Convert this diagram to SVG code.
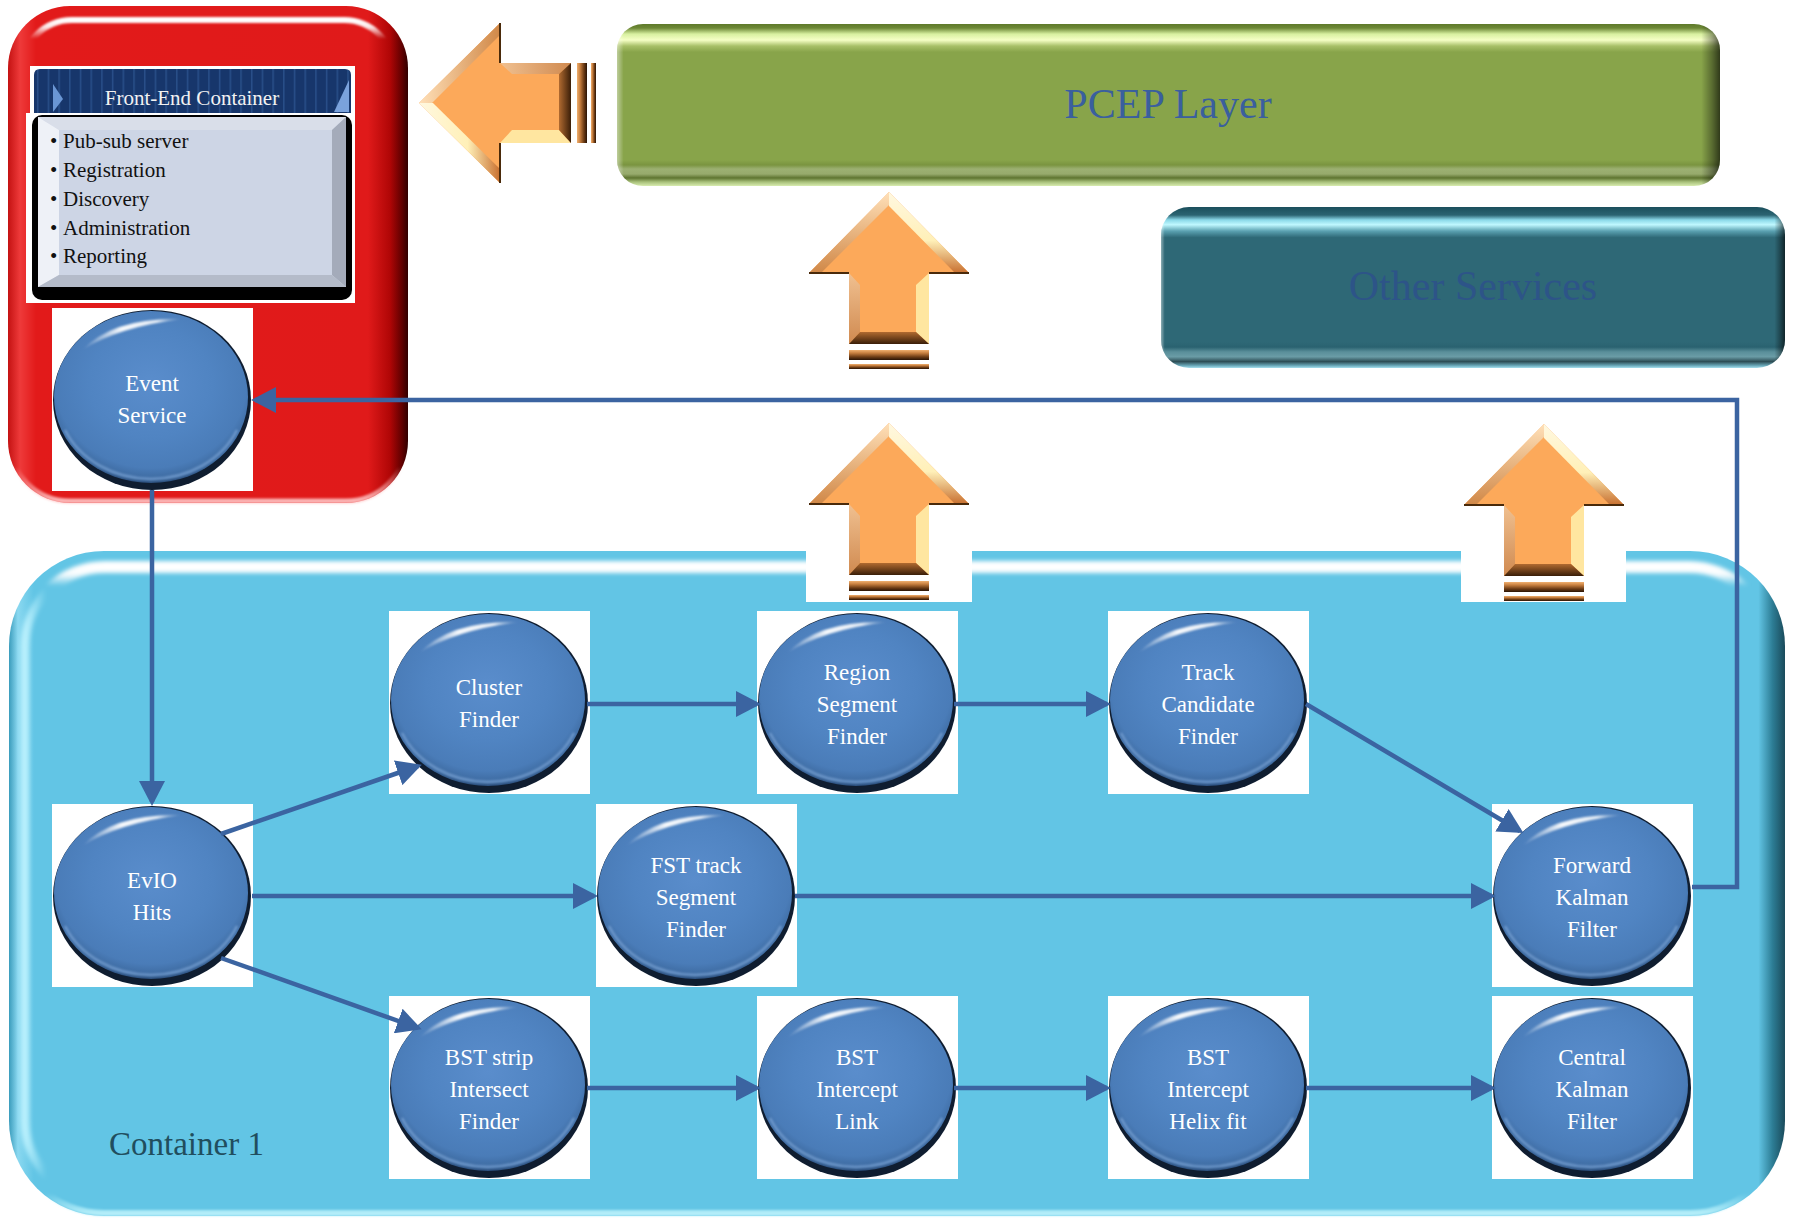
<svg xmlns="http://www.w3.org/2000/svg" xmlns:xlink="http://www.w3.org/1999/xlink" width="1796" height="1219" viewBox="0 0 1796 1219">
<style>
.serif{font-family:"Liberation Serif","Times New Roman",serif}
.nl{font-size:23px;fill:#ffffff;text-anchor:middle}
.bl{font-size:21px;fill:#111111}
</style>
<defs>
<filter id="b1" x="-20%" y="-20%" width="140%" height="140%"><feGaussianBlur stdDeviation="1.2"/></filter>
<filter id="b2" x="-20%" y="-20%" width="140%" height="140%"><feGaussianBlur stdDeviation="2.2"/></filter>
<linearGradient id="redH" x1="0" y1="0" x2="1" y2="0">
<stop offset="0" stop-color="#c41212"/><stop offset="0.03" stop-color="#ee3a3a"/><stop offset="0.07" stop-color="#e21a1a"/><stop offset="0.9" stop-color="#e01a1a"/><stop offset="0.955" stop-color="#b00606"/><stop offset="0.985" stop-color="#600000"/><stop offset="1" stop-color="#300000"/>
</linearGradient>
<linearGradient id="hlTop" x1="0" y1="0" x2="0" y2="1">
<stop offset="0" stop-color="#fff" stop-opacity="1"/><stop offset="0.015" stop-color="#fff" stop-opacity="0.9"/><stop offset="0.04" stop-color="#fff" stop-opacity="0"/><stop offset="1" stop-color="#fff" stop-opacity="0"/>
</linearGradient>
<linearGradient id="hlBot" x1="0" y1="0" x2="0" y2="1">
<stop offset="0" stop-color="#ffc0c0" stop-opacity="0"/><stop offset="0.93" stop-color="#ffc0c0" stop-opacity="0"/><stop offset="1" stop-color="#ffc8c8" stop-opacity="0.9"/>
</linearGradient>
<linearGradient id="greenV" x1="0" y1="0" x2="0" y2="1">
<stop offset="0" stop-color="#5e7a2a"/><stop offset="0.025" stop-color="#6d8836"/><stop offset="0.062" stop-color="#d8f0a0"/><stop offset="0.099" stop-color="#f6ffc6"/><stop offset="0.136" stop-color="#a8c068"/><stop offset="0.173" stop-color="#88a44a"/><stop offset="0.84" stop-color="#88a44a"/><stop offset="0.87" stop-color="#7a9440"/><stop offset="0.895" stop-color="#9cb072"/><stop offset="0.926" stop-color="#97aa6c"/><stop offset="0.95" stop-color="#5e7430"/><stop offset="0.975" stop-color="#a8c07a"/><stop offset="1" stop-color="#d8ecb0"/>
</linearGradient>
<linearGradient id="edgeH" x1="0" y1="0" x2="1" y2="0">
<stop offset="0" stop-color="#ffffff" stop-opacity="0.45"/><stop offset="0.006" stop-color="#ffffff" stop-opacity="0"/><stop offset="0.983" stop-color="#000" stop-opacity="0"/><stop offset="0.993" stop-color="#000" stop-opacity="0.35"/><stop offset="1" stop-color="#000" stop-opacity="0.65"/>
</linearGradient>
<linearGradient id="tealV" x1="0" y1="0" x2="0" y2="1">
<stop offset="0" stop-color="#1b4f5c"/><stop offset="0.05" stop-color="#2b6472"/><stop offset="0.08" stop-color="#8ad8e8"/><stop offset="0.11" stop-color="#c0f8ff"/><stop offset="0.15" stop-color="#5aa0b0"/><stop offset="0.19" stop-color="#2e6876"/><stop offset="0.84" stop-color="#2e6876"/><stop offset="0.87" stop-color="#2a6270"/><stop offset="0.9" stop-color="#5a8f9a"/><stop offset="0.93" stop-color="#6a9ca6"/><stop offset="0.96" stop-color="#2d4d55"/><stop offset="0.985" stop-color="#6aa8b8"/><stop offset="1" stop-color="#a8e0ee"/>
</linearGradient>
<linearGradient id="cyanH" x1="0" y1="0" x2="1" y2="0">
<stop offset="0" stop-color="#3a9cbc"/><stop offset="0.005" stop-color="#8ad8f0"/><stop offset="0.014" stop-color="#62c5e5"/><stop offset="0.985" stop-color="#62c5e5"/><stop offset="0.993" stop-color="#2d7d95"/><stop offset="1" stop-color="#1a4a5a"/>
</linearGradient>
<linearGradient id="cyTop" x1="0" y1="0" x2="0" y2="1">
<stop offset="0" stop-color="#fff" stop-opacity="1"/><stop offset="0.012" stop-color="#fff" stop-opacity="0.95"/><stop offset="0.03" stop-color="#fff" stop-opacity="0"/><stop offset="1" stop-color="#fff" stop-opacity="0"/>
</linearGradient>
<linearGradient id="cyLeft" x1="0" y1="0" x2="1" y2="0">
<stop offset="0" stop-color="#c0f4ff" stop-opacity="0.9"/><stop offset="0.006" stop-color="#c0f4ff" stop-opacity="0.5"/><stop offset="0.012" stop-color="#c0f4ff" stop-opacity="0"/><stop offset="1" stop-color="#c0f4ff" stop-opacity="0"/>
</linearGradient>
<linearGradient id="cyBot" x1="0" y1="0" x2="0" y2="1">
<stop offset="0" stop-color="#b0ecf8" stop-opacity="0"/><stop offset="0.97" stop-color="#b0ecf8" stop-opacity="0"/><stop offset="1" stop-color="#b8f0fa" stop-opacity="0.95"/>
</linearGradient>
<pattern id="stripes" patternUnits="userSpaceOnUse" width="10.7" height="20">
<rect width="10.7" height="20" fill="#17366b"/><rect x="5" width="1.3" height="20" fill="#2c538e"/>
</pattern>
<radialGradient id="ball" cx="0.5" cy="0.42" r="0.58">
<stop offset="0" stop-color="#5a8dcc"/><stop offset="0.55" stop-color="#5084c2"/><stop offset="0.85" stop-color="#4a7cb8"/><stop offset="0.96" stop-color="#3d6aa0"/><stop offset="1" stop-color="#2a4d7a"/>
</radialGradient>
<linearGradient id="shine" x1="0" y1="0" x2="1" y2="0">
<stop offset="0" stop-color="#fff" stop-opacity="0"/><stop offset="0.4" stop-color="#fff" stop-opacity="0.95"/><stop offset="0.75" stop-color="#fff" stop-opacity="0.85"/><stop offset="1" stop-color="#fff" stop-opacity="0"/>
</linearGradient>
<linearGradient id="bevL" x1="0" y1="0" x2="0" y2="1">
<stop offset="0" stop-color="#ffe0b8"/><stop offset="1" stop-color="#d08848"/>
</linearGradient>
<linearGradient id="bevR" x1="0" y1="0" x2="0" y2="1">
<stop offset="0" stop-color="#fff8e0"/><stop offset="0.6" stop-color="#fff0b8"/><stop offset="1" stop-color="#c87030"/>
</linearGradient>
<linearGradient id="bevB" x1="0" y1="0" x2="0" y2="1">
<stop offset="0" stop-color="#b06a30"/><stop offset="1" stop-color="#3a1e08"/>
</linearGradient>
<linearGradient id="stripeG" x1="0" y1="0" x2="0" y2="1">
<stop offset="0" stop-color="#f0b070"/><stop offset="0.3" stop-color="#c88040"/><stop offset="0.7" stop-color="#6a3a14"/><stop offset="1" stop-color="#2a1406"/>
</linearGradient>
<linearGradient id="shaftL" x1="0" y1="0" x2="0" y2="1">
<stop offset="0" stop-color="#f0c090"/><stop offset="1" stop-color="#d08a50"/>
</linearGradient>
<g id="bigArrow">
<path d="M0,0 L80,81 L40,81 L40,152 L-40,152 L-40,81 L-80,81 Z" fill="#fca95a"/>
<path d="M0,0 L-80,81 L-68,81 L0,13 Z" fill="url(#bevL)"/>
<path d="M0,0 L80,81 L66,81 L0,14 Z" fill="url(#bevR)"/>
<path d="M-40,81 L-29,93 L-29,140 L-40,152 Z" fill="url(#shaftL)"/>
<path d="M40,81 L27,93 L27,140 L40,152 Z" fill="#ffe6a0"/>
<path d="M-40,152 L-29,140 L27,140 L40,152 Z" fill="url(#bevB)"/>
<path d="M-80,81 L-40,81 M40,81 L80,81" stroke="#4a2a0a" stroke-width="2"/>
<rect x="-40" y="158" width="80" height="10" fill="url(#stripeG)"/>
<rect x="-40" y="172" width="80" height="5" fill="url(#stripeG)"/>
</g>
<g id="bubble">
<rect x="-100" y="-92" width="201" height="183" fill="#ffffff"/>
<ellipse rx="99" ry="90" fill="#0f1d30"/>
<ellipse cx="-1" cy="-3" rx="97" ry="86" fill="url(#ball)"/>
<path d="M-87,30 A94,82 0 0 0 85,30" stroke="#8ab2e2" stroke-opacity="0.6" stroke-width="2.5" fill="none" filter="url(#b1)"/>
<path d="M-70,-50 Q-38,-83 30,-81 Q-34,-73 -70,-50 Z" fill="url(#shine)" filter="url(#b1)"/>
</g>
<marker id="ah" markerUnits="userSpaceOnUse" markerWidth="26" markerHeight="26" refX="21" refY="13" orient="auto">
<path d="M0,0 L25,13 L0,26 Z" fill="#3b64a1"/>
</marker>
</defs>

<rect width="1796" height="1219" fill="#ffffff"/>

<!-- Front-End container -->
<g id="front-end-container">
<rect x="8" y="6" width="400" height="497" rx="62" fill="url(#redH)"/>
<rect x="22" y="20" width="372" height="469" rx="50" fill="none" stroke="url(#hlTop)" stroke-width="6" filter="url(#b1)"/>
<rect x="10" y="8" width="396" height="493" rx="60" fill="none" stroke="url(#hlBot)" stroke-width="5" filter="url(#b1)"/>
<g id="front-end-header">
<rect x="30" y="66" width="325" height="48" fill="#ffffff"/>
<path d="M34,113 L34,75 Q34,69 40,69 L345,69 Q351,69 351,75 L351,113 Z" fill="url(#stripes)"/>
<path d="M53,84 L63,99 L53,112 Z" fill="#6a96d4"/>
<path d="M334,112 L349,80 L349,112 Z" fill="#7aa2dc"/>
<text class="serif" x="192" y="105" font-size="21" fill="#f2f2f2" text-anchor="middle">Front-End Container</text>
</g>
<g id="front-end-services">
<rect x="26" y="113" width="329" height="190" fill="#ffffff"/>
<rect x="32" y="115" width="320" height="185" rx="10" fill="#000000"/>
<rect x="38" y="117" width="308" height="170" fill="#cdd5e5"/>
<path d="M38,117 L346,117 L332,130 L59,130 Z" fill="#d9dee9"/>
<path d="M38,117 L59,130 L59,275 L38,287 Z" fill="#eef1f7"/>
<path d="M346,117 L346,287 L332,275 L332,130 Z" fill="#a4abba"/>
<path d="M38,287 L59,275 L332,275 L346,287 Z" fill="#b4bbc9"/>
<g class="serif bl">
<text x="50" y="148">•</text><text x="63" y="148">Pub-sub server</text>
<text x="50" y="177">•</text><text x="63" y="177">Registration</text>
<text x="50" y="206">•</text><text x="63" y="206">Discovery</text>
<text x="50" y="235">•</text><text x="63" y="235">Administration</text>
<text x="50" y="263">•</text><text x="63" y="263">Reporting</text>
</g>
</g>
</g>

<!-- PCEP layer -->
<g id="pcep-layer">
<rect x="617" y="24" width="1103" height="162" rx="26" fill="url(#greenV)"/>
<rect x="617" y="24" width="1103" height="162" rx="26" fill="url(#edgeH)"/>
<text class="serif" x="1168" y="118" font-size="42" fill="#3a5f9e" text-anchor="middle">PCEP Layer</text>
</g>

<!-- Other services -->
<g id="other-services">
<rect x="1161" y="207" width="624" height="161" rx="28" fill="url(#tealV)"/>
<rect x="1161" y="207" width="624" height="161" rx="28" fill="url(#edgeH)"/>
<text class="serif" x="1473" y="300" font-size="42" fill="#2d5488" text-anchor="middle">Other Services</text>
</g>

<!-- Container 1 -->
<g id="container-1">
<rect x="9" y="551" width="1776" height="665" rx="95" fill="url(#cyanH)"/>
<rect x="25" y="567" width="1744" height="633" rx="80" fill="none" stroke="url(#cyTop)" stroke-width="12" filter="url(#b2)"/>
<rect x="25" y="567" width="1744" height="633" rx="80" fill="none" stroke="url(#cyLeft)" stroke-width="9" filter="url(#b2)"/>
<rect x="12" y="554" width="1770" height="659" rx="92" fill="none" stroke="url(#cyBot)" stroke-width="6" filter="url(#b1)"/>
<text class="serif" x="109" y="1155" font-size="33" fill="#214e5e">Container 1</text>
</g>

<!-- Orange arrows -->
<g id="arrow-left">
<use xlink:href="#bigArrow" href="#bigArrow" transform="translate(419,103) rotate(-90) scale(-1,1)"/>
</g>
<g id="arrow-up-1">
<use xlink:href="#bigArrow" href="#bigArrow" transform="translate(889,192)"/>
</g>
<g id="arrow-up-2">
<rect x="806" y="551" width="166" height="51" fill="#ffffff"/>
<use xlink:href="#bigArrow" href="#bigArrow" transform="translate(889,423)"/>
</g>
<g id="arrow-up-3">
<rect x="1461" y="551" width="165" height="51" fill="#ffffff"/>
<use xlink:href="#bigArrow" href="#bigArrow" transform="translate(1544,424)"/>
</g>

<!-- Nodes -->
<g id="event-service">
<use xlink:href="#bubble" href="#bubble" x="152" y="400"/>
<text class="serif nl" x="152" y="391">Event</text><text class="serif nl" x="152" y="423">Service</text>
</g>
<g id="evio-hits">
<use xlink:href="#bubble" href="#bubble" x="152" y="896"/>
<text class="serif nl" x="152" y="888">EvIO</text><text class="serif nl" x="152" y="920">Hits</text>
</g>
<g id="cluster-finder">
<use xlink:href="#bubble" href="#bubble" x="489" y="703"/>
<text class="serif nl" x="489" y="695">Cluster</text><text class="serif nl" x="489" y="727">Finder</text>
</g>
<g id="region-segment-finder">
<use xlink:href="#bubble" href="#bubble" x="857" y="703"/>
<text class="serif nl" x="857" y="680">Region</text><text class="serif nl" x="857" y="712">Segment</text><text class="serif nl" x="857" y="744">Finder</text>
</g>
<g id="track-candidate-finder">
<use xlink:href="#bubble" href="#bubble" x="1208" y="703"/>
<text class="serif nl" x="1208" y="680">Track</text><text class="serif nl" x="1208" y="712">Candidate</text><text class="serif nl" x="1208" y="744">Finder</text>
</g>
<g id="fst-track-segment-finder">
<use xlink:href="#bubble" href="#bubble" x="696" y="896"/>
<text class="serif nl" x="696" y="873">FST track</text><text class="serif nl" x="696" y="905">Segment</text><text class="serif nl" x="696" y="937">Finder</text>
</g>
<g id="forward-kalman-filter">
<use xlink:href="#bubble" href="#bubble" x="1592" y="896"/>
<text class="serif nl" x="1592" y="873">Forward</text><text class="serif nl" x="1592" y="905">Kalman</text><text class="serif nl" x="1592" y="937">Filter</text>
</g>
<g id="bst-strip-intersect-finder">
<use xlink:href="#bubble" href="#bubble" x="489" y="1088"/>
<text class="serif nl" x="489" y="1065">BST strip</text><text class="serif nl" x="489" y="1097">Intersect</text><text class="serif nl" x="489" y="1129">Finder</text>
</g>
<g id="bst-intercept-link">
<use xlink:href="#bubble" href="#bubble" x="857" y="1088"/>
<text class="serif nl" x="857" y="1065">BST</text><text class="serif nl" x="857" y="1097">Intercept</text><text class="serif nl" x="857" y="1129">Link</text>
</g>
<g id="bst-intercept-helix-fit">
<use xlink:href="#bubble" href="#bubble" x="1208" y="1088"/>
<text class="serif nl" x="1208" y="1065">BST</text><text class="serif nl" x="1208" y="1097">Intercept</text><text class="serif nl" x="1208" y="1129">Helix fit</text>
</g>
<g id="central-kalman-filter">
<use xlink:href="#bubble" href="#bubble" x="1592" y="1088"/>
<text class="serif nl" x="1592" y="1065">Central</text><text class="serif nl" x="1592" y="1097">Kalman</text><text class="serif nl" x="1592" y="1129">Filter</text>
</g>

<!-- Connectors -->
<g id="connectors" stroke="#3b64a1" stroke-width="4.5" fill="none" marker-end="url(#ah)">
<line x1="152" y1="490" x2="152" y2="802"/>
<line x1="221" y1="834" x2="418" y2="766"/>
<line x1="252" y1="896" x2="594" y2="896"/>
<line x1="221" y1="958" x2="418" y2="1028"/>
<line x1="587" y1="704" x2="757" y2="704"/>
<line x1="954" y1="704" x2="1107" y2="704"/>
<line x1="1306" y1="704" x2="1520" y2="831"/>
<line x1="795" y1="896" x2="1492" y2="896"/>
<line x1="587" y1="1088" x2="757" y2="1088"/>
<line x1="954" y1="1088" x2="1107" y2="1088"/>
<line x1="1306" y1="1088" x2="1492" y2="1088"/>
<polyline points="1692,887 1737,887 1737,400 255,400"/>
</g>
</svg>
